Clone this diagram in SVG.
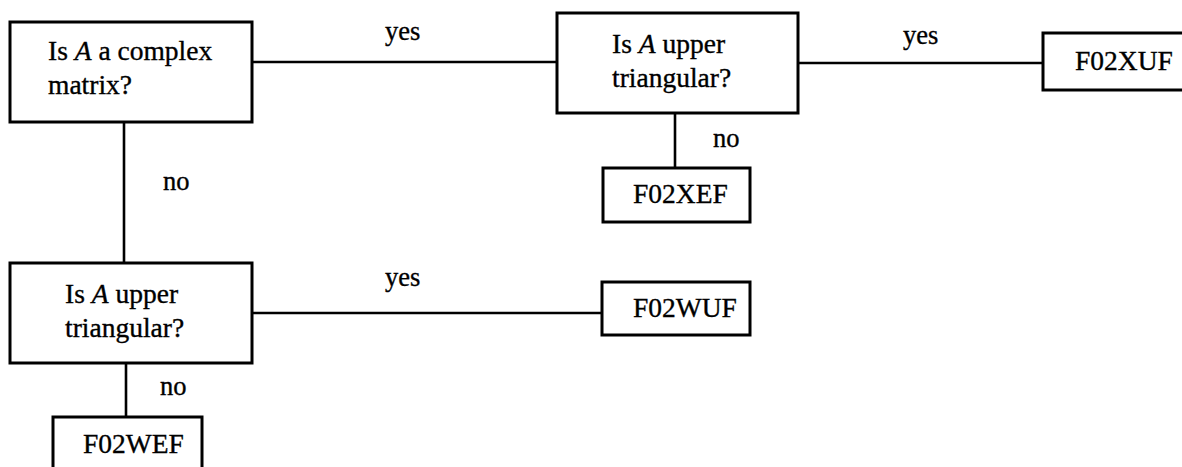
<svg xmlns="http://www.w3.org/2000/svg" width="1182" height="467" viewBox="0 0 1182 467">
  <style>
    .box { fill: #fff; stroke: #000; stroke-width: 3; }
    .wire { fill: none; stroke: #000; stroke-width: 2.6; }
    text { font-family: "Liberation Serif", "Times New Roman", serif; font-size: 27.5px; fill: #000; stroke: #000; stroke-width: 0.35; }
    .lbl { font-size: 26.5px; }
    .it { font-style: italic; }
  </style>
  <rect width="1182" height="467" fill="#fff"/>

  <!-- connectors and their yes/no labels -->
  <g id="connectors">
    <line class="wire" x1="252" y1="62" x2="557" y2="62"/>
    <line class="wire" x1="798" y1="63" x2="1043" y2="63"/>
    <line class="wire" x1="675" y1="113" x2="675" y2="168"/>
    <line class="wire" x1="124" y1="122" x2="124" y2="263"/>
    <line class="wire" x1="252" y1="313" x2="602" y2="313"/>
    <line class="wire" x1="126" y1="363" x2="126" y2="417"/>
    <text class="lbl" x="385" y="40">yes</text>
    <text class="lbl" x="903" y="44">yes</text>
    <text class="lbl" x="713" y="147">no</text>
    <text class="lbl" x="163" y="190">no</text>
    <text class="lbl" x="385" y="286">yes</text>
    <text class="lbl" x="160" y="395">no</text>
  </g>

  <g id="q-complex">
    <rect class="box" x="10" y="22" width="242" height="100"/>
    <text x="48" y="60">Is <tspan class="it">A</tspan> a complex</text>
    <text x="48" y="94">matrix?</text>
  </g>

  <g id="q-upper-complex">
    <rect class="box" x="557" y="13" width="241" height="100"/>
    <text x="612" y="53">Is <tspan class="it">A</tspan> upper</text>
    <text x="612" y="87">triangular?</text>
  </g>

  <g id="f02xuf">
    <rect class="box" x="1043" y="33" width="150" height="57"/>
    <text x="1075" y="70">F02XUF</text>
  </g>

  <g id="f02xef">
    <rect class="box" x="603" y="168" width="147" height="54"/>
    <text x="633" y="203">F02XEF</text>
  </g>

  <g id="q-upper-real">
    <rect class="box" x="10" y="263" width="242" height="100"/>
    <text x="65" y="303">Is <tspan class="it">A</tspan> upper</text>
    <text x="65" y="337">triangular?</text>
  </g>

  <g id="f02wuf">
    <rect class="box" x="602" y="282" width="148" height="53"/>
    <text x="633" y="317">F02WUF</text>
  </g>

  <g id="f02wef">
    <rect class="box" x="53" y="417" width="149" height="60"/>
    <text x="83" y="453">F02WEF</text>
  </g>
</svg>
